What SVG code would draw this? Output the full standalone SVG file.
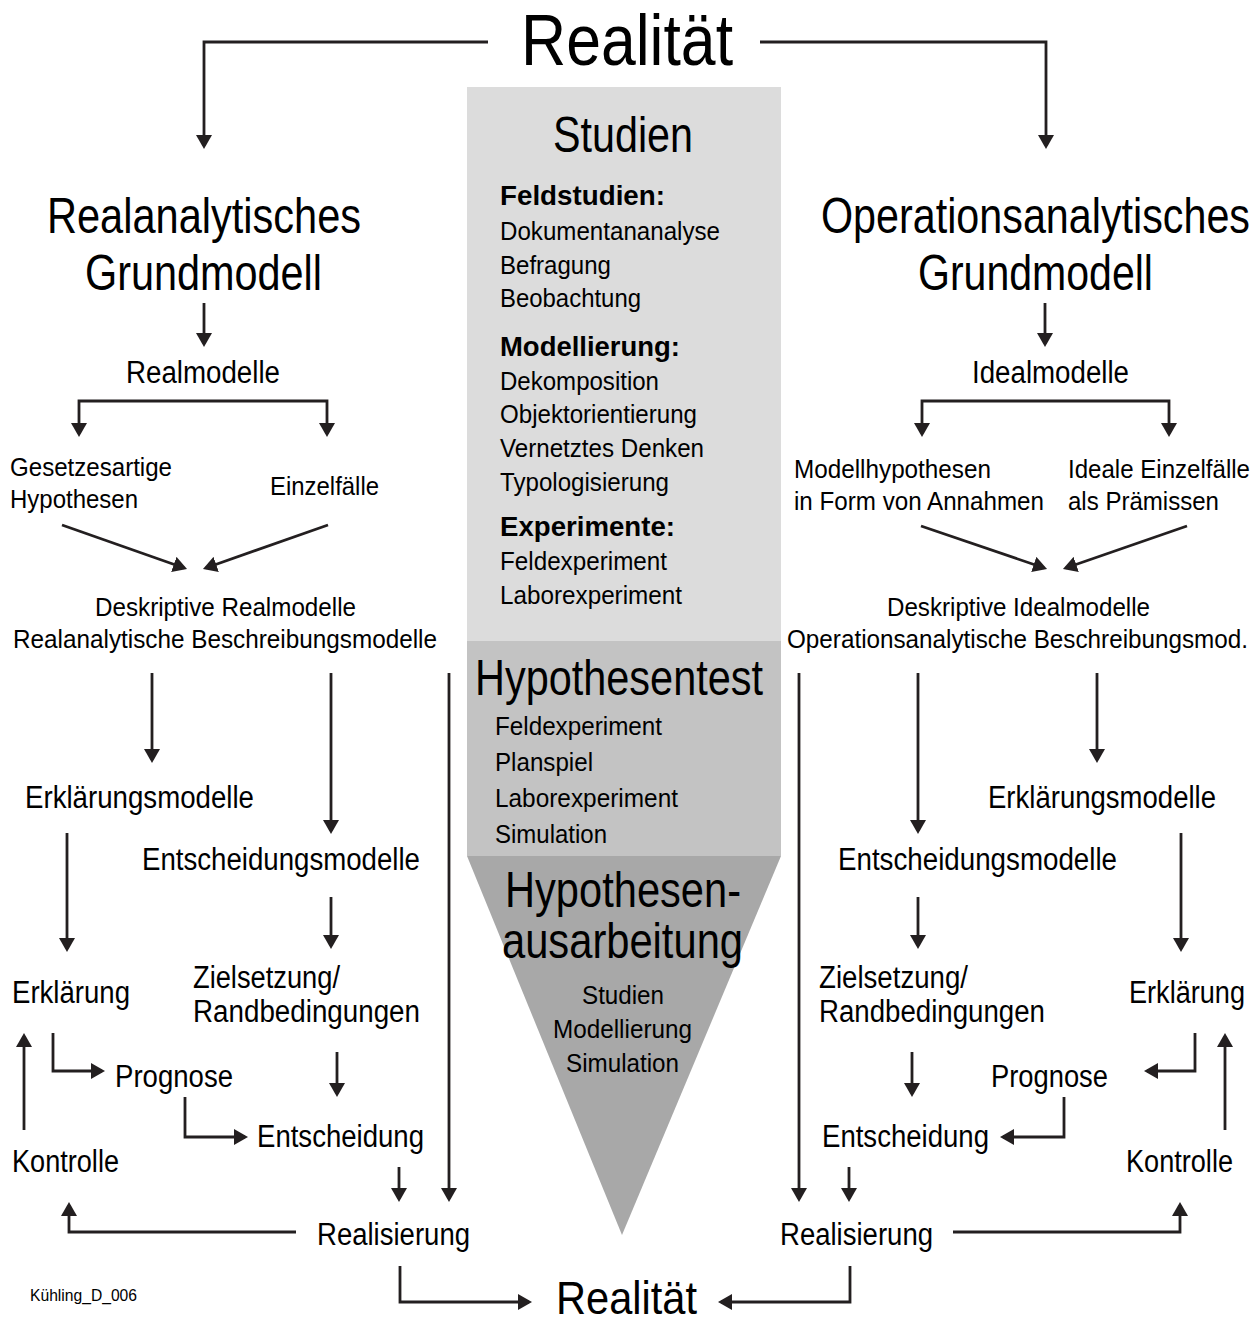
<svg xmlns="http://www.w3.org/2000/svg" width="1260" height="1322" viewBox="0 0 1260 1322">
  <style>
    text { font-family: "Liberation Sans", Arial, sans-serif; fill: #000; }
    .xl { font-size: 72px; }
    .l { font-size: 50px; }
    .lb { font-size: 46px; }
    .m { font-size: 31px; }
    .s { font-size: 26px; }
    .b { font-size: 28px; font-weight: bold; }
    .tiny { font-size: 16px; }
    .con { fill: none; stroke: #231f20; stroke-width: 2.8; }
    .arr { marker-end: url(#ah); }
    .arr2 { marker-start: url(#ah); marker-end: url(#ah); }
  </style>
  <defs>
    <marker id="ah" viewBox="0 0 14 16" markerWidth="14" markerHeight="16" refX="11" refY="8" markerUnits="userSpaceOnUse" orient="auto-start-reverse">
      <path d="M0,0 L14,8 L0,16 z" fill="#231f20"/>
    </marker>
  </defs>
  <rect width="1260" height="1322" fill="#fff"/>

  <!-- central funnel -->
  <g id="funnel">
    <rect x="467" y="87" width="314" height="554" fill="#dcdcdc"/>
    <rect x="467" y="641" width="314" height="215" fill="#c3c3c3"/>
    <polygon points="467,856 781,856 622,1235" fill="#a8a8a8"/>
  </g>

  <g id="studien">
    <text class="l" x="553" y="152" textLength="140" lengthAdjust="spacingAndGlyphs">Studien</text>
    <text class="b" x="500" y="205" textLength="165" lengthAdjust="spacingAndGlyphs">Feldstudien:</text>
    <text class="s" x="500" y="240" textLength="220" lengthAdjust="spacingAndGlyphs">Dokumentananalyse</text>
    <text class="s" x="500" y="274" textLength="111" lengthAdjust="spacingAndGlyphs">Befragung</text>
    <text class="s" x="500" y="307" textLength="141" lengthAdjust="spacingAndGlyphs">Beobachtung</text>
    <text class="b" x="500" y="356" textLength="180" lengthAdjust="spacingAndGlyphs">Modellierung:</text>
    <text class="s" x="500" y="390" textLength="159" lengthAdjust="spacingAndGlyphs">Dekomposition</text>
    <text class="s" x="500" y="423" textLength="197" lengthAdjust="spacingAndGlyphs">Objektorientierung</text>
    <text class="s" x="500" y="457" textLength="204" lengthAdjust="spacingAndGlyphs">Vernetztes Denken</text>
    <text class="s" x="500" y="491" textLength="169" lengthAdjust="spacingAndGlyphs">Typologisierung</text>
    <text class="b" x="500" y="536" textLength="175" lengthAdjust="spacingAndGlyphs">Experimente:</text>
    <text class="s" x="500" y="570" textLength="167" lengthAdjust="spacingAndGlyphs">Feldexperiment</text>
    <text class="s" x="500" y="604" textLength="182" lengthAdjust="spacingAndGlyphs">Laborexperiment</text>
  </g>

  <g id="hypothesentest">
    <text class="l" x="475" y="695" textLength="288" lengthAdjust="spacingAndGlyphs">Hypothesentest</text>
    <text class="s" x="495" y="735" textLength="167" lengthAdjust="spacingAndGlyphs">Feldexperiment</text>
    <text class="s" x="495" y="771" textLength="98" lengthAdjust="spacingAndGlyphs">Planspiel</text>
    <text class="s" x="495" y="807" textLength="183" lengthAdjust="spacingAndGlyphs">Laborexperiment</text>
    <text class="s" x="495" y="843" textLength="112" lengthAdjust="spacingAndGlyphs">Simulation</text>
  </g>

  <g id="ausarbeitung">
    <text class="l" x="505" y="907" textLength="236" lengthAdjust="spacingAndGlyphs">Hypothesen-</text>
    <text class="l" x="502" y="958" textLength="241" lengthAdjust="spacingAndGlyphs">ausarbeitung</text>
    <text class="s" x="582" y="1004" textLength="82" lengthAdjust="spacingAndGlyphs">Studien</text>
    <text class="s" x="553" y="1038" textLength="139" lengthAdjust="spacingAndGlyphs">Modellierung</text>
    <text class="s" x="566" y="1072" textLength="113" lengthAdjust="spacingAndGlyphs">Simulation</text>
  </g>

  <!-- top and bottom -->
  <g id="realitaet-top"><text class="xl" x="521" y="65" textLength="212" lengthAdjust="spacingAndGlyphs">Realität</text></g>
  <g id="realitaet-bottom"><text class="lb" x="556" y="1314" textLength="141" lengthAdjust="spacingAndGlyphs">Realität</text></g>
  <g id="code"><text class="tiny" x="30" y="1301" textLength="107" lengthAdjust="spacingAndGlyphs">Kühling_D_006</text></g>

  <!-- left branch -->
  <g id="real-grundmodell">
    <text class="l" x="47" y="233" textLength="314" lengthAdjust="spacingAndGlyphs">Realanalytisches</text>
    <text class="l" x="85" y="290" textLength="237" lengthAdjust="spacingAndGlyphs">Grundmodell</text>
  </g>
  <g id="realmodelle"><text class="m" x="126" y="383" textLength="154" lengthAdjust="spacingAndGlyphs">Realmodelle</text></g>
  <g id="gesetz">
    <text class="s" x="10" y="476" textLength="162" lengthAdjust="spacingAndGlyphs">Gesetzesartige</text>
    <text class="s" x="10" y="508" textLength="128" lengthAdjust="spacingAndGlyphs">Hypothesen</text>
  </g>
  <g id="einzelfaelle"><text class="s" x="270" y="495" textLength="109" lengthAdjust="spacingAndGlyphs">Einzelfälle</text></g>
  <g id="deskr-real">
    <text class="s" x="95" y="616" textLength="261" lengthAdjust="spacingAndGlyphs">Deskriptive Realmodelle</text>
    <text class="s" x="13" y="648" textLength="424" lengthAdjust="spacingAndGlyphs">Realanalytische Beschreibungsmodelle</text>
  </g>
  <g id="l-erklmod"><text class="m" x="25" y="808" textLength="229" lengthAdjust="spacingAndGlyphs">Erklärungsmodelle</text></g>
  <g id="l-entmod"><text class="m" x="142" y="870" textLength="278" lengthAdjust="spacingAndGlyphs">Entscheidungsmodelle</text></g>
  <g id="l-erkl"><text class="m" x="12" y="1003" textLength="118" lengthAdjust="spacingAndGlyphs">Erklärung</text></g>
  <g id="l-ziel">
    <text class="m" x="193" y="988" textLength="147" lengthAdjust="spacingAndGlyphs">Zielsetzung/</text>
    <text class="m" x="193" y="1022" textLength="227" lengthAdjust="spacingAndGlyphs">Randbedingungen</text>
  </g>
  <g id="l-prognose"><text class="m" x="115" y="1087" textLength="118" lengthAdjust="spacingAndGlyphs">Prognose</text></g>
  <g id="l-entsch"><text class="m" x="257" y="1147" textLength="167" lengthAdjust="spacingAndGlyphs">Entscheidung</text></g>
  <g id="l-kontrolle"><text class="m" x="12" y="1172" textLength="107" lengthAdjust="spacingAndGlyphs">Kontrolle</text></g>
  <g id="l-real"><text class="m" x="317" y="1245" textLength="153" lengthAdjust="spacingAndGlyphs">Realisierung</text></g>

  <!-- right branch -->
  <g id="op-grundmodell">
    <text class="l" x="821" y="233" textLength="429" lengthAdjust="spacingAndGlyphs">Operationsanalytisches</text>
    <text class="l" x="918" y="290" textLength="235" lengthAdjust="spacingAndGlyphs">Grundmodell</text>
  </g>
  <g id="idealmodelle"><text class="m" x="972" y="383" textLength="157" lengthAdjust="spacingAndGlyphs">Idealmodelle</text></g>
  <g id="modellhyp">
    <text class="s" x="794" y="478" textLength="197" lengthAdjust="spacingAndGlyphs">Modellhypothesen</text>
    <text class="s" x="794" y="510" textLength="250" lengthAdjust="spacingAndGlyphs">in Form von Annahmen</text>
  </g>
  <g id="ideale">
    <text class="s" x="1068" y="478" textLength="182" lengthAdjust="spacingAndGlyphs">Ideale Einzelfälle</text>
    <text class="s" x="1068" y="510" textLength="151" lengthAdjust="spacingAndGlyphs">als Prämissen</text>
  </g>
  <g id="deskr-ideal">
    <text class="s" x="887" y="616" textLength="263" lengthAdjust="spacingAndGlyphs">Deskriptive Idealmodelle</text>
    <text class="s" x="787" y="648" textLength="461" lengthAdjust="spacingAndGlyphs">Operationsanalytische Beschreibungsmod.</text>
  </g>
  <g id="r-erklmod"><text class="m" x="988" y="808" textLength="228" lengthAdjust="spacingAndGlyphs">Erklärungsmodelle</text></g>
  <g id="r-entmod"><text class="m" x="838" y="870" textLength="279" lengthAdjust="spacingAndGlyphs">Entscheidungsmodelle</text></g>
  <g id="r-erkl"><text class="m" x="1129" y="1003" textLength="116" lengthAdjust="spacingAndGlyphs">Erklärung</text></g>
  <g id="r-ziel">
    <text class="m" x="819" y="988" textLength="149" lengthAdjust="spacingAndGlyphs">Zielsetzung/</text>
    <text class="m" x="819" y="1022" textLength="226" lengthAdjust="spacingAndGlyphs">Randbedingungen</text>
  </g>
  <g id="r-prognose"><text class="m" x="991" y="1087" textLength="117" lengthAdjust="spacingAndGlyphs">Prognose</text></g>
  <g id="r-entsch"><text class="m" x="822" y="1147" textLength="167" lengthAdjust="spacingAndGlyphs">Entscheidung</text></g>
  <g id="r-kontrolle"><text class="m" x="1126" y="1172" textLength="107" lengthAdjust="spacingAndGlyphs">Kontrolle</text></g>
  <g id="r-real"><text class="m" x="780" y="1245" textLength="153" lengthAdjust="spacingAndGlyphs">Realisierung</text></g>

  <!-- connectors -->
  <g id="connectors" class="con">
    <path class="arr" d="M488,42 H204 V146"/>
    <path class="arr" d="M760,42 H1046 V146"/>

    <!-- left -->
    <path class="arr" d="M204,303 V344"/>
    <path class="arr2" d="M79,434 V401 H327 V434"/>
    <path class="arr" d="M62,525 L184.2,568"/>
    <path class="arr" d="M328,525 L205.8,568"/>
    <path class="arr" d="M152,673 V760"/>
    <path class="arr" d="M331,673 V831"/>
    <path class="arr" d="M449,673 V1199"/>
    <path class="arr" d="M67,833 V949"/>
    <path class="arr" d="M331,897 V946"/>
    <path class="arr" d="M24,1130 V1036"/>
    <path class="arr" d="M53,1033 V1071 H102"/>
    <path class="arr" d="M185,1097 V1137 H245"/>
    <path class="arr" d="M337,1052 V1094"/>
    <path class="arr" d="M399,1167 V1199"/>
    <path class="arr" d="M296,1232 H69 V1205"/>
    <path class="arr" d="M400,1266 V1302 H529"/>

    <!-- right -->
    <path class="arr" d="M1045,303 V344"/>
    <path class="arr2" d="M922,434 V401 H1169 V434"/>
    <path class="arr" d="M921,526 L1044.2,568"/>
    <path class="arr" d="M1187,526 L1065.8,568"/>
    <path class="arr" d="M799,673 V1199"/>
    <path class="arr" d="M918,673 V831"/>
    <path class="arr" d="M1097,673 V760"/>
    <path class="arr" d="M1181,833 V949"/>
    <path class="arr" d="M918,897 V946"/>
    <path class="arr" d="M912,1052 V1094"/>
    <path class="arr" d="M1195,1033 V1071 H1147"/>
    <path class="arr" d="M1225,1130 V1036"/>
    <path class="arr" d="M1064,1097 V1137 H1003"/>
    <path class="arr" d="M849,1167 V1199"/>
    <path class="arr" d="M953,1232 H1180 V1205"/>
    <path class="arr" d="M850,1266 V1302 H721"/>
  </g>
</svg>
